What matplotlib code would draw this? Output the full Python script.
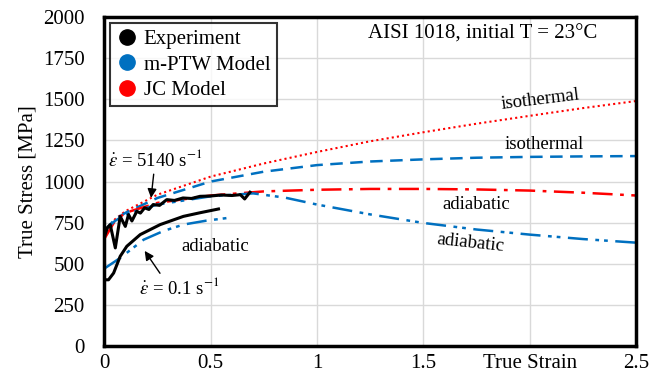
import matplotlib
matplotlib.use("Agg")
import matplotlib.pyplot as plt
from matplotlib.lines import Line2D

plt.rcParams['font.family'] = ['Liberation Serif', 'DejaVu Serif']
plt.rcParams['mathtext.fontset'] = 'stix'

# JC isothermal (red dotted)
jc_iso_x = [0, 0.05, 0.1, 0.25, 0.5, 0.75, 1.0, 1.25, 1.5, 1.75, 2.0, 2.25, 2.5]
jc_iso_y = [655, 770, 820, 920, 1030, 1110, 1180, 1245, 1300, 1352, 1400, 1447, 1490]
# m-PTW isothermal (blue dashed)
ptw_iso_x = [0, 0.05, 0.1, 0.25, 0.5, 0.75, 1.0, 1.25, 1.5, 1.75, 2.0, 2.25, 2.5]
ptw_iso_y = [700, 770, 810, 900, 1000, 1060, 1100, 1122, 1135, 1145, 1150, 1153, 1155]
# JC adiabatic (red dash-dot)
jc_adi_x = [0, 0.05, 0.1, 0.25, 0.5, 0.75, 1.0, 1.25, 1.5, 1.75, 2.0, 2.25, 2.5]
jc_adi_y = [650, 760, 810, 870, 915, 940, 950, 955, 955, 952, 945, 932, 915]
# m-PTW adiabatic, high rate (blue dash-dot-dot)
ptw_adi_hi_x = [0, 0.05, 0.1, 0.25, 0.5, 0.7, 0.85, 1.0, 1.25, 1.5, 1.75, 2.0, 2.25, 2.5]
ptw_adi_hi_y = [700, 760, 800, 860, 910, 928, 902, 860, 800, 748, 708, 677, 650, 628]
# m-PTW adiabatic, low rate
ptw_adi_lo_x = [0, 0.075, 0.185, 0.28, 0.372, 0.48, 0.584]
ptw_adi_lo_y = [470, 535, 646, 700, 738, 762, 779]
# Experiment, 5140 1/s
exp_hi_x = [0, 0.015, 0.028, 0.052, 0.075, 0.099, 0.114, 0.13, 0.153, 0.17, 0.19, 0.21, 0.23, 0.26, 0.294,
            0.33, 0.37, 0.41, 0.45, 0.5, 0.55, 0.6, 0.64, 0.66, 0.685]
exp_hi_y = [660, 720, 738, 596, 788, 727, 799, 760, 819, 808, 840, 830, 860, 855, 890,
            885, 900, 897, 910, 912, 918, 915, 920, 894, 935]
# Experiment, 0.1 1/s
exp_lo_x = [0, 0.02, 0.044, 0.075, 0.106, 0.169, 0.263, 0.372, 0.45, 0.537]
exp_lo_y = [402, 402, 443, 545, 606, 677, 738, 788, 810, 833]

black = '#000000'
blue = '#0070C0'
red = '#FF0000'

fig, ax = plt.subplots(figsize=(6.64, 3.83), dpi=100)
fig.subplots_adjust(left=0.157, right=0.958, top=0.955, bottom=0.097)

ax.plot(jc_iso_x, jc_iso_y, color=red, lw=1.5, ls=(0, (1, 1.5)))
ax.plot(ptw_iso_x, ptw_iso_y, color=blue, lw=1.8, ls=(0, (5, 3)))
ax.plot(jc_adi_x, jc_adi_y, color=red, lw=1.8, ls=(0, (8, 3, 1.5, 3)))
ax.plot(ptw_adi_hi_x, ptw_adi_hi_y, color=blue, lw=1.8, ls=(0, (8, 3, 1.5, 2, 1.5, 3)))
ax.plot(ptw_adi_lo_x, ptw_adi_lo_y, color=blue, lw=1.8, ls=(0, (8, 3, 1.5, 2, 1.5, 3)))
ax.plot(exp_hi_x, exp_hi_y, color=black, lw=2.2)
ax.plot(exp_lo_x, exp_lo_y, color=black, lw=2.2)

ax.set_xlim(0, 2.5)
ax.set_ylim(0, 2000)
ax.set_xticks([0, 0.5, 1, 1.5, 2, 2.5])
ax.set_xticklabels(['0', '0.5', '1', '1.5', 'True Strain', '2.5'])
ax.set_yticks(range(0, 2001, 250))
ax.tick_params(length=0, labelsize=15)
ax.tick_params(axis='y', pad=14)
ax.tick_params(axis='x', pad=6)
ax.grid(True, color='#d9d9d9', lw=1)
ax.set_axisbelow(True)
for s in ax.spines.values():
    s.set_linewidth(2.5)
ax.set_ylabel('True Stress [MPa]', fontsize=15, labelpad=4)

fs = 13.5
ax.text(1.78, 1895, 'AISI 1018, initial T = 23°C', fontsize=15, ha='center', va='center')
ax.text(2.05, 1500, 'isothermal', fontsize=fs, ha='center', va='center', rotation=7)
ax.text(2.07, 1225, 'isothermal', fontsize=fs, ha='center', va='center')
ax.text(1.75, 860, 'adiabatic', fontsize=fs, ha='center', va='center')
ax.text(1.72, 628, 'adiabatic', fontsize=fs, ha='center', va='center', rotation=-6)
ax.text(0.52, 604, 'adiabatic', fontsize=fs, ha='center', va='center')

ax.annotate(r'$\dot{\varepsilon}$ = 5140 s$^{-1}$', xy=(0.22, 900), xytext=(0.24, 1134),
            fontsize=fs, ha='center', va='center',
            arrowprops=dict(arrowstyle='-|>', color='black', lw=1, shrinkA=1, shrinkB=0))
ax.annotate(r'$\dot{\varepsilon}$ = 0.1 s$^{-1}$', xy=(0.19, 578), xytext=(0.35, 354),
            fontsize=fs, ha='center', va='center',
            arrowprops=dict(arrowstyle='-|>', color='black', lw=1, shrinkA=1, shrinkB=0,
                            relpos=(0.3, 1.0)))

handles = [Line2D([], [], ls='none', marker='o', ms=11, color=c) for c in (black, blue, red)]
leg = ax.legend(handles, ['Experiment', 'm-PTW Model', 'JC Model'], loc='upper left',
                fontsize=15, frameon=True, fancybox=False, edgecolor='black',
                borderaxespad=0.3, handletextpad=0.3, labelspacing=0.28, borderpad=0.3,
                handlelength=1.0)
leg.get_frame().set_linewidth(1.5)

fig.savefig('out.png', dpi=100)
